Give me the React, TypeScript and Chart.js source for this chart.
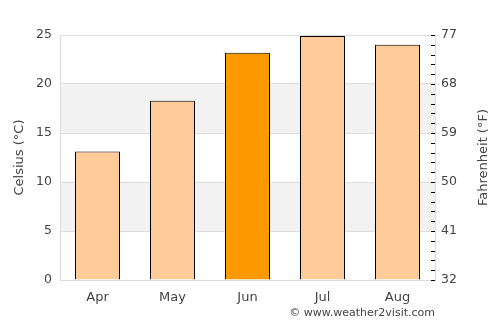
import React, { useEffect, useRef } from "react";
import { Chart, registerables } from "chart.js";

Chart.register(...registerables);

const months = ["Apr", "May", "Jun", "Jul", "Aug"];
const celsius = [13.1, 18.3, 23.2, 24.9, 24.0];
const highlightIndex = 2;
const celsiusTicks = [0, 5, 10, 15, 20, 25];
const fahrenheitMin = 32;
const fahrenheitMax = 77;
const fahrenheitLabels = [32, 41, 50, 59, 68, 77];
const shadedBands = [[5, 10], [15, 20]];

const LIGHT = "#ffcc99";
const DARK = "#ff9900";
const TEXT = "#444";
const FONT = "'DejaVu Sans', sans-serif";

const bandsPlugin = {
  id: "bands",
  beforeDraw(chart: any) {
    const { ctx, chartArea } = chart;
    const y = chart.scales.y;
    ctx.save();
    ctx.fillStyle = "#f2f2f2";
    for (const [a, b] of shadedBands) {
      const top = y.getPixelForValue(b);
      const bottom = y.getPixelForValue(a);
      ctx.fillRect(chartArea.left, top, chartArea.right - chartArea.left, bottom - top);
    }
    ctx.restore();
  },
};

const overlayPlugin = {
  id: "overlay",
  afterDraw(chart: any) {
    const { ctx, chartArea } = chart;
    const y2 = chart.scales.y2;
    ctx.save();
    ctx.strokeStyle = "#000";
    ctx.lineWidth = 1;
    ctx.beginPath();
    for (const t of y2.ticks) {
      const py = Math.round(y2.getPixelForValue(t.value)) + 0.5;
      ctx.moveTo(chartArea.right - 4, py);
      ctx.lineTo(chartArea.right, py);
    }
    ctx.stroke();
    ctx.font = `13px ${FONT}`;
    ctx.fillStyle = TEXT;
    ctx.textAlign = "center";
    ctx.textBaseline = "middle";
    ctx.translate(484, (chartArea.top + chartArea.bottom) / 2);
    ctx.rotate(-Math.PI / 2);
    ctx.fillText("Fahrenheit (°F)", 0, 0);
    ctx.restore();
    ctx.save();
    ctx.font = `11px ${FONT}`;
    ctx.fillStyle = TEXT;
    ctx.textAlign = "right";
    ctx.textBaseline = "middle";
    ctx.fillText("© www.weather2visit.com", chartArea.right, chartArea.bottom + 33);
    ctx.restore();
  },
};

export default function App() {
  const ref = useRef<HTMLCanvasElement>(null);
  useEffect(() => {
    if (!ref.current) return;
    const chart = new Chart(ref.current, {
      type: "bar",
      data: {
        labels: months,
        datasets: [
          {
            data: celsius,
            backgroundColor: celsius.map((_, i) => (i === highlightIndex ? DARK : LIGHT)),
            borderColor: "#000",
            borderWidth: 1,
            categoryPercentage: 1,
            barPercentage: 0.6,
            yAxisID: "y",
          },
        ],
      },
      options: {
        animation: false,
        responsive: false,
        maintainAspectRatio: false,
        layout: { padding: { top: 35, left: 0, right: 0, bottom: 0 } },
        plugins: { legend: { display: false }, tooltip: { enabled: false } },
        scales: {
          x: {
            grid: { display: false, drawTicks: false },
            border: { color: "#ddd" },
            ticks: { color: TEXT, font: { family: FONT, size: 13 }, padding: 10 },
            afterFit(s: any) {
              s.height = 45;
            },
          },
          y: {
            position: "left",
            min: 0,
            max: 25,
            afterBuildTicks(s: any) {
              s.ticks = celsiusTicks.map((v) => ({ value: v }));
            },
            grid: { color: "#ddd", drawTicks: false },
            border: { color: "#ddd" },
            ticks: { color: TEXT, font: { family: FONT, size: 12.5 }, padding: 8 },
            title: {
              display: true,
              text: "Celsius (°C)",
              color: TEXT,
              font: { family: FONT, size: 13 },
              padding: { top: 12, bottom: 0 },
            },
            afterFit(s: any) {
              s.width = 60;
            },
          },
          y2: {
            position: "right",
            min: fahrenheitMin,
            max: fahrenheitMax,
            afterBuildTicks(s: any) {
              const ticks: any[] = [];
              for (let i = 0; i < fahrenheitLabels.length - 1; i++) {
                const a = fahrenheitLabels[i];
                const b = fahrenheitLabels[i + 1];
                for (let k = 0; k < 5; k++) ticks.push({ value: a + ((b - a) * k) / 5 });
              }
              ticks.push({ value: fahrenheitLabels[fahrenheitLabels.length - 1] });
              s.ticks = ticks;
            },
            grid: { drawOnChartArea: false, drawTicks: false },
            border: { color: "#ddd" },
            ticks: {
              autoSkip: false,
              color: TEXT,
              font: { family: FONT, size: 12.5 },
              padding: 6,
              callback: (v: any) =>
                fahrenheitLabels.some((f) => Math.abs(f - Number(v)) < 1e-6) ? String(Math.round(Number(v))) : "",
            },
            afterFit(s: any) {
              s.width = 65;
            },
          },
        },
      },
      plugins: [bandsPlugin, overlayPlugin],
    });
    return () => chart.destroy();
  }, []);
  return (
    <div style={{ position: "fixed", left: 0, top: 0, width: 500, height: 325, background: "#fff" }}>
      <canvas ref={ref} width={500} height={325} style={{ width: 500, height: 325 }} />
    </div>
  );
}
